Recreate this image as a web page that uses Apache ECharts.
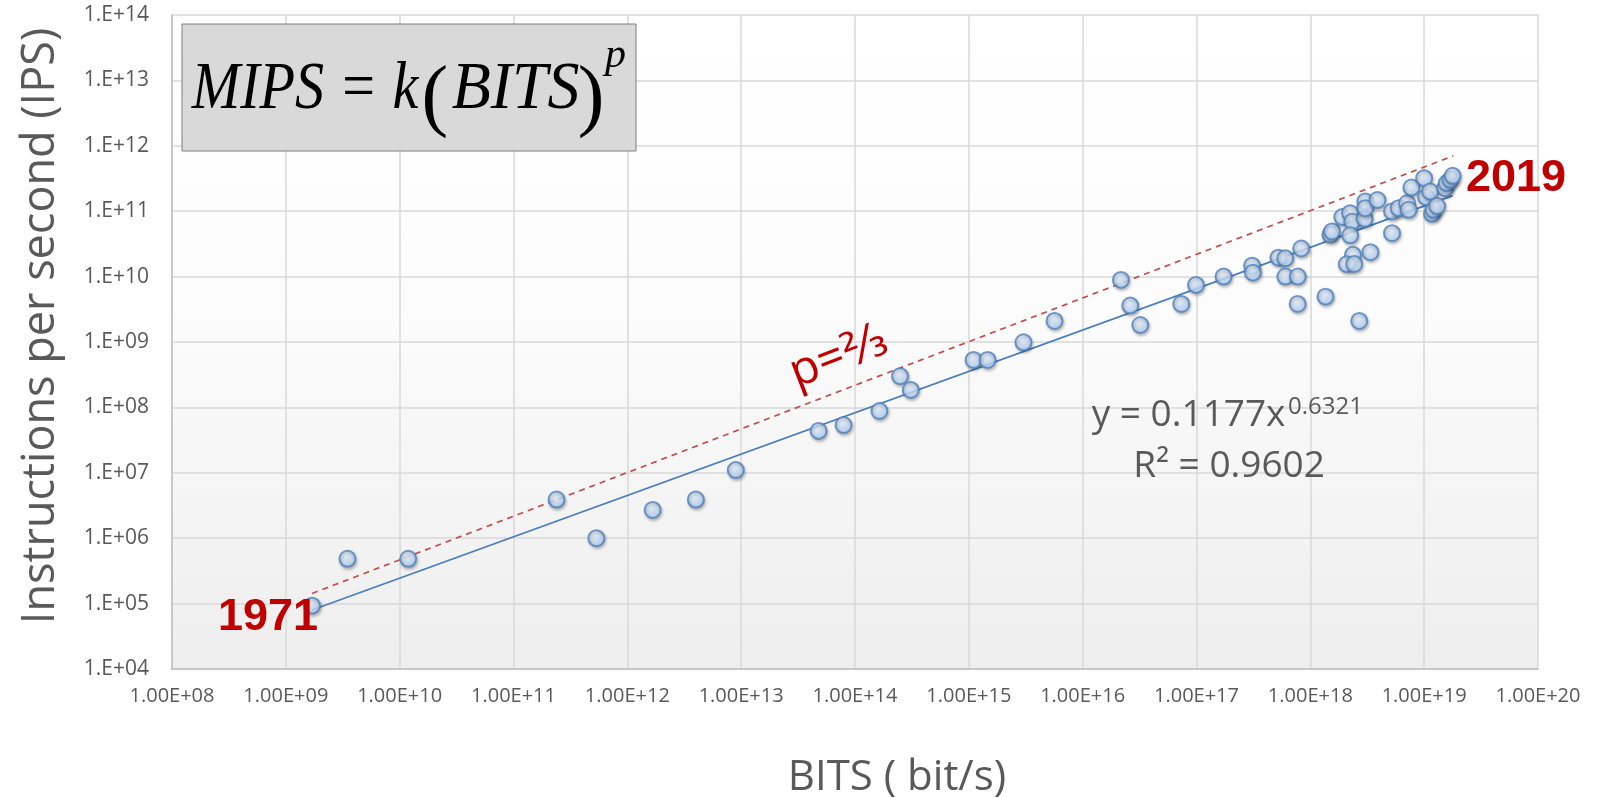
<!DOCTYPE html>
<html>
<head>
<meta charset="utf-8">
<script src="https://cdn.jsdelivr.net/npm/echarts@6/dist/echarts.min.js"></script>
<style>
html,body{margin:0;padding:0;background:#ffffff;}
#chart{width:1603px;height:798px;}
</style>
</head>
<body>
<div id="chart"></div>
<script>
// ---- Data ----
const bitsPerSecond = [
  1.7e9, 3.48e9, 1.19e10, 2.39e11, 5.35e11, 1.67e12, 4.0e12, 8.97e12,
  4.79e13, 7.94e13, 1.64e14, 2.49e14, 3.09e14, 1.10e15, 1.46e15, 3.02e15, 5.66e15,
  2.17e16, 2.62e16, 3.21e16, 7.35e16, 9.9e16, 1.73e17, 3.08e17, 3.13e17,
  5.25e17, 6.03e17, 6.03e17, 7.76e17, 7.74e17, 8.32e17, 1.36e18, 2.69e18,
  1.5e18, 1.55e18, 1.91e18, 2.24e18, 2.34e18, 2.24e18, 2.37e18, 2.09e18,
  2.43e18, 3.37e18, 3.0e18, 3.04e18, 3.04e18, 3.89e18, 5.22e18, 5.22e18,
  5.98e18, 7.08e18, 7.31e18, 7.73e18, 1.0e19, 1.04e19, 1.13e19, 1.17e19,
  1.21e19, 1.3e19, 1.53e19, 1.58e19, 1.7e19, 1.78e19
];
const instructionsPerSecond = [
  9.3e4, 4.84e5, 4.84e5, 3.9e6, 1.0e6, 2.7e6, 3.9e6, 1.1e7,
  4.37e7, 5.37e7, 8.81e7, 3.0e8, 1.85e8, 5.31e8, 5.31e8, 9.9e8, 2.1e9,
  8.9e9, 3.6e9, 1.82e9, 3.82e9, 7.46e9, 1.0e10, 1.47e10, 1.15e10,
  1.95e10, 1.9e10, 1.0e10, 1.0e10, 3.82e9, 2.69e10, 4.94e9, 2.1e9,
  4.35e10, 4.9e10, 8.13e10, 9.33e10, 6.92e10, 4.27e10, 2.15e10, 1.55e10,
  1.56e10, 2.36e10, 7.64e10, 1.41e11, 1.11e11, 1.48e11, 4.61e10, 9.9e10,
  1.11e11, 1.32e11, 1.05e11, 2.3e11, 3.2e11, 1.64e11, 2.0e11, 9.12e10,
  1.05e11, 1.2e11, 2.25e11, 2.69e11, 3.02e11, 3.47e11
];
// Power-law trend line (straight on log-log axes): end points
const fitLineBits = [1.7e9, 1.78e19];
const fitLineIps = [8.0e4, 1.73e11];
// Reference line p = 2/3: end points
const refLineBits = [1.7e9, 1.8e19];
const refLineIps = [1.43e5, 7.0e11];
// Axis decades and tick labels
const xTickExponents = [8, 9, 10, 11, 12, 13, 14, 15, 16, 17, 18, 19, 20];
const xTickLabels = ['1.00E+08','1.00E+09','1.00E+10','1.00E+11','1.00E+12','1.00E+13','1.00E+14','1.00E+15','1.00E+16','1.00E+17','1.00E+18','1.00E+19','1.00E+20'];
const yTickExponents = [4, 5, 6, 7, 8, 9, 10, 11, 12, 13, 14];
const yTickLabels = ['1.E+04','1.E+05','1.E+06','1.E+07','1.E+08','1.E+09','1.E+10','1.E+11','1.E+12','1.E+13','1.E+14'];

// ---- Build chart ----
const lg = v => Math.log10(v);
const pts = bitsPerSecond.map((b, i) => [lg(b), lg(instructionsPerSecond[i])]);
const fitPts = fitLineBits.map((b, i) => [lg(b), lg(fitLineIps[i])]);
const refPts = refLineBits.map((b, i) => [lg(b), lg(refLineIps[i])]);

const labelFont = "'Open Sans', 'Liberation Sans', sans-serif";
const gray = '#595959';
const red = '#c00000';

const chart = echarts.init(document.getElementById('chart'), null, {renderer: 'canvas'});
chart.setOption({
  animation: false,
  backgroundColor: '#ffffff',
  grid: {
    left: 172, top: 15, right: 65, bottom: 129,
    show: true,
    borderWidth: 0,
    backgroundColor: new echarts.graphic.LinearGradient(0, 0, 0, 1, [
      {offset: 0, color: '#ffffff'},
      {offset: 0.45, color: '#fcfcfc'},
      {offset: 1, color: '#eeeeee'}
    ])
  },
  xAxis: {
    type: 'value',
    min: xTickExponents[0],
    max: xTickExponents[xTickExponents.length - 1],
    interval: 1,
    axisLine: {show: true, lineStyle: {color: '#bfbfbf', width: 1.5}},
    axisTick: {show: false},
    splitLine: {show: true, lineStyle: {color: '#d9d9d9', width: 1.5}},
    axisLabel: {
      margin: 17, color: gray, fontFamily: labelFont, fontSize: 20,
      formatter: v => xTickLabels[xTickExponents.indexOf(Math.round(v))] || ''
    }
  },
  yAxis: {
    type: 'value',
    min: yTickExponents[0],
    max: yTickExponents[yTickExponents.length - 1],
    interval: 1,
    axisLine: {show: true, lineStyle: {color: '#bfbfbf', width: 1.5}},
    axisTick: {show: false},
    splitLine: {show: true, lineStyle: {color: '#d9d9d9', width: 1.5}},
    axisLabel: {
      margin: 23, color: gray, fontFamily: labelFont, fontSize: 21,
      formatter: v => yTickLabels[yTickExponents.indexOf(Math.round(v))] || ''
    }
  },
  series: [
    {
      type: 'line', data: refPts, symbol: 'none', z: 2,
      lineStyle: {color: '#c0504d', width: 1.7, type: [6, 5]}
    },
    {
      type: 'line', data: fitPts, symbol: 'none', z: 2,
      lineStyle: {color: '#4a7ebb', width: 1.7}
    },
    {
      type: 'scatter', data: pts, symbol: 'circle', symbolSize: 16, z: 3,
      itemStyle: {
        color: new echarts.graphic.RadialGradient(0.38, 0.3, 0.75, [
          {offset: 0, color: '#f0f7ff'},
          {offset: 1, color: '#a6c9f4'}
        ]),
        borderColor: '#4f81bd', borderWidth: 2,
        shadowBlur: 3, shadowColor: 'rgba(0,0,0,0.28)', shadowOffsetX: 1, shadowOffsetY: 2
      }
    }
  ],
  graphic: [
    // axis titles
    {type: 'text', x: 41, y: 326, rotation: Math.PI / 2, z: 10,
      style: {text: 'Instructions per second (IPS)', fill: gray, font: "45px 'Open Sans'", align: 'center', verticalAlign: 'middle'}},
    {type: 'text', x: 897, y: 778, z: 10,
      style: {text: 'BITS ( bit/s)', fill: gray, font: "42px 'Open Sans'", align: 'center', verticalAlign: 'middle'}},
    // formula box
    {type: 'rect', shape: {x: 182, y: 24, width: 454, height: 127}, z: 20,
      style: {fill: '#d9d9d9', stroke: '#7f7f7f', lineWidth: 1}},
    {type: 'text', x: 191.7, y: 90, scaleX: 0.855, z: 21,
      style: {text: 'MIPS = k', fill: '#000', font: "italic 68px 'Liberation Serif'", align: 'left', verticalAlign: 'middle'}},
    {type: 'text', x: 434.7, y: 100, z: 21,
      style: {text: '(', fill: '#000', font: "80px 'Liberation Serif'", align: 'center', verticalAlign: 'middle'}},
    {type: 'text', x: 451.7, y: 90, scaleX: 0.94, z: 21,
      style: {text: 'BITS', fill: '#000', font: "italic 68px 'Liberation Serif'", align: 'left', verticalAlign: 'middle'}},
    {type: 'text', x: 591, y: 100, z: 21,
      style: {text: ')', fill: '#000', font: "80px 'Liberation Serif'", align: 'center', verticalAlign: 'middle'}},
    {type: 'text', x: 605, y: 56, z: 21,
      style: {text: 'p', fill: '#000', font: "italic 42px 'Liberation Serif'", align: 'left', verticalAlign: 'middle'}},
    // year labels
    {type: 'text', x: 1516, y: 179, z: 10,
      style: {text: '2019', fill: red, font: "bold 45px 'Liberation Sans'", align: 'center', verticalAlign: 'middle'}},
    {type: 'text', x: 268, y: 617.5, z: 10,
      style: {text: '1971', fill: red, font: "bold 45px 'Liberation Sans'", align: 'center', verticalAlign: 'middle'}},
    // p = 2/3 label
    {type: 'text', x: 839, y: 357, rotation: 21 * Math.PI / 180, z: 10,
      style: {text: 'p=⅔', fill: red, font: "47px 'Open Sans', 'DejaVu Sans'", align: 'center', verticalAlign: 'middle'}},
    // regression equation
    {type: 'text', x: 1091.7, y: 415.6, z: 10,
      style: {text: 'y = 0.1177x', fill: gray, font: "37px 'Open Sans'", align: 'left', verticalAlign: 'middle'}},
    {type: 'text', x: 1288, y: 407.5, z: 10,
      style: {text: '0.6321', fill: gray, font: "24px 'Open Sans'", align: 'left', verticalAlign: 'middle'}},
    {type: 'text', x: 1133.3, y: 466.6, z: 10,
      style: {text: 'R² = 0.9602', fill: gray, font: "37px 'Open Sans'", align: 'left', verticalAlign: 'middle'}}
  ]
});
</script>
</body>
</html>
